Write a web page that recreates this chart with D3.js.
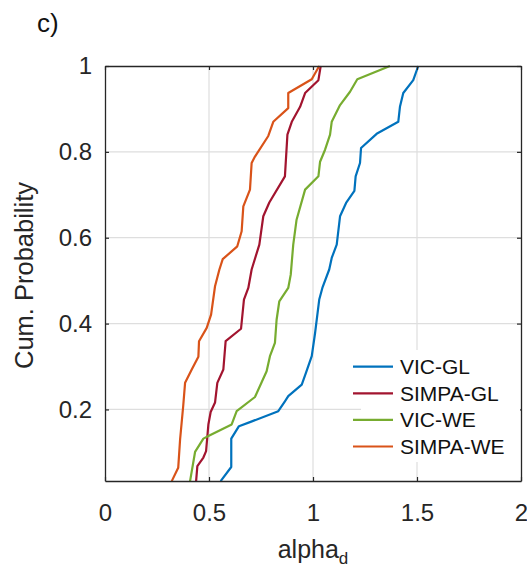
<!DOCTYPE html>
<html>
<head>
<meta charset="utf-8">
<script src="https://cdn.jsdelivr.net/npm/d3@7"></script>
<style>
html,body{margin:0;padding:0;background:#fff;}
svg{display:block;font-family:"Liberation Sans",Arial,Helvetica,sans-serif;}
</style>
</head>
<body>
<svg id="chart" width="527" height="570"></svg>
<script>
// ---- data (alpha_d values vs cumulative probability) ----
const seriesNames = ["VIC-GL", "SIMPA-GL", "VIC-WE", "SIMPA-WE"];
const seriesColors = ["#0072BD", "#A2142F", "#77AC30", "#D95319"];

const vicGL_x = [0.556,0.607,0.607,0.644,0.700,0.833,0.865,0.881,0.946,0.966,0.994,1.010,1.030,1.045,1.078,1.090,1.114,1.130,1.159,1.199,1.205,1.226,1.231,1.306,1.410,1.418,1.434,1.482,1.506];
const vicGL_p = [0.033,0.066,0.132,0.161,0.171,0.196,0.219,0.231,0.258,0.285,0.324,0.378,0.456,0.483,0.526,0.553,0.584,0.650,0.681,0.709,0.743,0.774,0.809,0.842,0.870,0.905,0.937,0.967,1.0];

const simpaGL_x = [0.438,0.444,0.473,0.486,0.497,0.508,0.529,0.540,0.569,0.580,0.654,0.668,0.689,0.705,0.742,0.761,0.790,0.865,0.877,0.898,0.938,0.962,1.026,1.037];
const simpaGL_p = [0.033,0.068,0.088,0.103,0.165,0.194,0.216,0.262,0.293,0.359,0.388,0.456,0.483,0.526,0.584,0.650,0.682,0.743,0.840,0.870,0.905,0.937,0.967,1.0];

const vicWE_x = [0.409,0.433,0.473,0.497,0.609,0.633,0.721,0.777,0.793,0.817,0.825,0.838,0.881,0.893,0.905,0.921,0.962,1.026,1.034,1.058,1.082,1.090,1.130,1.178,1.213,1.370];
const vicWE_p = [0.033,0.101,0.132,0.138,0.165,0.196,0.229,0.289,0.324,0.355,0.409,0.452,0.483,0.514,0.584,0.642,0.712,0.743,0.777,0.805,0.840,0.870,0.909,0.940,0.969,1.0];

const simpaWE_x = [0.321,0.352,0.361,0.376,0.385,0.417,0.449,0.452,0.489,0.510,0.529,0.550,0.566,0.636,0.657,0.665,0.697,0.705,0.721,0.785,0.809,0.881,0.881,0.994,1.030];
const simpaWE_p = [0.033,0.064,0.130,0.208,0.262,0.293,0.323,0.359,0.390,0.421,0.487,0.526,0.550,0.580,0.615,0.673,0.712,0.774,0.789,0.837,0.870,0.902,0.937,0.969,1.0];

const xTicks = [0, 0.5, 1, 1.5, 2];
const yTicks = [0.2, 0.4, 0.6, 0.8, 1];
const panelLabel = "c)";
const xLabel = "alpha";
const xLabelSub = "d";
const yLabel = "Cum. Probability";

const allX = [vicGL_x, simpaGL_x, vicWE_x, simpaWE_x];
const allP = [vicGL_p, simpaGL_p, vicWE_p, simpaWE_p];

// ---- layout ----
const L = 105, R = 521, T = 66, B = 481;
const svg = d3.select("#chart");
const x = d3.scaleLinear().domain([0, 2]).range([L, R]);
const y = d3.scaleLinear().domain([1/30, 1]).range([B, T]);

// grid
const grid = svg.append("g");
grid.selectAll("line.gx").data(xTicks.slice(1, -1)).enter().append("line")
  .attr("x1", d => x(d)).attr("x2", d => x(d)).attr("y1", T).attr("y2", B)
  .attr("stroke", "#dedede").attr("stroke-width", 1.2);
grid.selectAll("line.gy").data(yTicks.slice(0, -1)).enter().append("line")
  .attr("x1", L).attr("x2", R).attr("y1", d => y(d)).attr("y2", d => y(d))
  .attr("stroke", "#dedede").attr("stroke-width", 1.2);

// lines
const line = d3.line().x(d => x(d[0])).y(d => y(d[1]));
allX.forEach((xs, i) => {
  const pts = xs.map((v, j) => [v, allP[i][j]]);
  svg.append("path").datum(pts).attr("d", line)
    .attr("fill", "none").attr("stroke", seriesColors[i])
    .attr("stroke-width", 2.2).attr("stroke-linejoin", "round");
});

// axes
const axisColor = "#262626";
const xAxis = svg.append("g").attr("transform", `translate(0,${B})`)
  .call(d3.axisBottom(x).tickValues(xTicks).tickFormat(d3.format("")).tickSizeInner(-4).tickSizeOuter(0).tickPadding(23));
const yAxis = svg.append("g").attr("transform", `translate(${L},0)`)
  .call(d3.axisLeft(y).tickValues(yTicks).tickFormat(d3.format("")).tickSizeInner(-4).tickSizeOuter(0).tickPadding(13));
const xTop = svg.append("g").attr("transform", `translate(0,${T})`)
  .call(d3.axisTop(x).tickValues(xTicks).tickFormat("").tickSizeInner(-4).tickSizeOuter(0));
const yRight = svg.append("g").attr("transform", `translate(${R},0)`)
  .call(d3.axisRight(y).tickValues(yTicks).tickFormat("").tickSizeInner(-4).tickSizeOuter(0));
[xAxis, yAxis, xTop, yRight].forEach(g => {
  g.select(".domain").attr("stroke", axisColor).attr("stroke-width", 1.3);
  g.selectAll(".tick line").attr("stroke", axisColor).attr("stroke-width", 1.2);
  g.selectAll(".tick text").attr("fill", "#262626").style("font-size", "24px")
    .style("font-family", "'Liberation Sans', Arial, sans-serif");
});
xAxis.selectAll(".tick text").attr("dy", "0.71em");

// legend
const lg = svg.append("g");
lg.append("rect").attr("x", 361).attr("y", 350).attr("width", R - 361 - 1).attr("height", 112).attr("fill", "#fff");
const rowY = [366.7, 393.3, 419.8, 446.5];
seriesNames.forEach((n, i) => {
  lg.append("line").attr("x1", 353).attr("x2", 393).attr("y1", rowY[i]).attr("y2", rowY[i])
    .attr("stroke", seriesColors[i]).attr("stroke-width", 2.2);
  lg.append("text").attr("x", 400).attr("y", rowY[i]).attr("dy", "0.36em")
    .style("font-size", "21px").attr("fill", "#111").text(n);
});

// labels
svg.append("text").attr("x", 37).attr("y", 32).style("font-size", "26px").attr("fill", "#111").text(panelLabel);
const xl = svg.append("text").attr("x", (L + R) / 2).attr("y", 558).attr("text-anchor", "middle")
  .style("font-size", "25px").attr("fill", "#262626");
xl.append("tspan").text(xLabel);
xl.append("tspan").attr("dy", 6).style("font-size", "17px").text(xLabelSub);
svg.append("text").attr("transform", `translate(33,${(T + B) / 2 + 2}) rotate(-90)`)
  .attr("text-anchor", "middle").style("font-size", "25.5px").attr("fill", "#262626").text(yLabel);
</script>
</body>
</html>
